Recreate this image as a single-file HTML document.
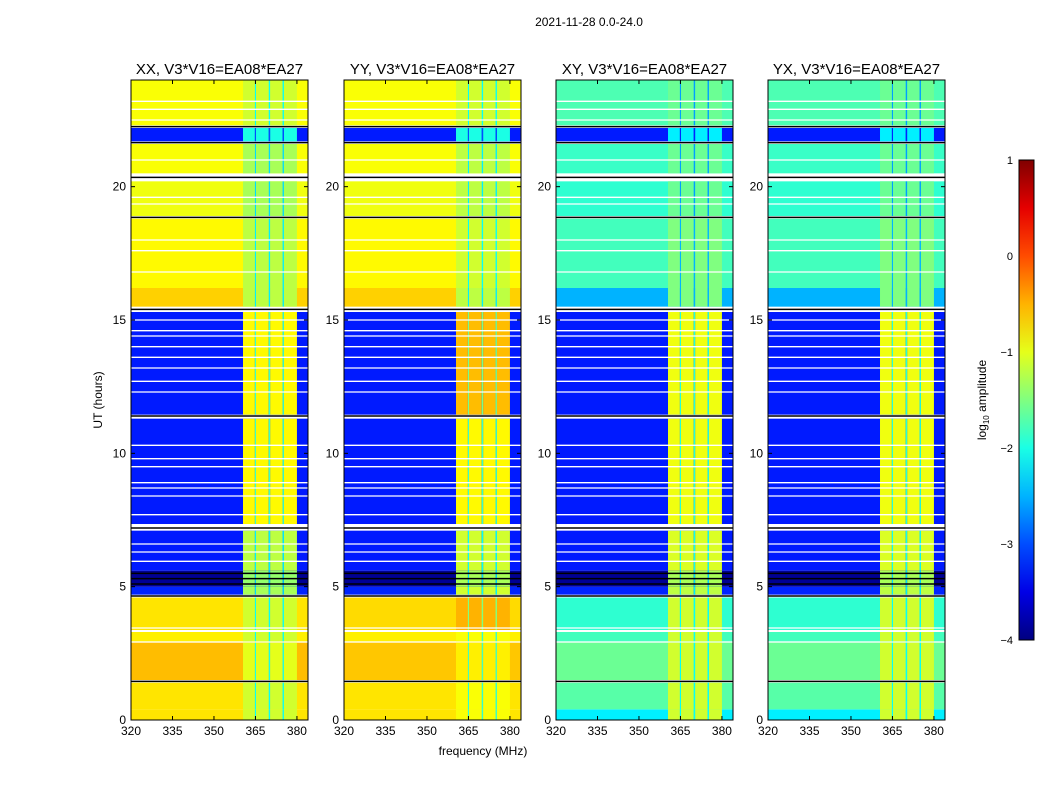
<!DOCTYPE html>
<html><head><meta charset="utf-8"><style>
body{margin:0;background:#fff;}
svg{display:block;font-family:"Liberation Sans",sans-serif;}
</style></head><body>
<svg id="fig" width="1050" height="800"></svg>
<script>
const panelTitles=["XX, V3*V16=EA08*EA27","YY, V3*V16=EA08*EA27","XY, V3*V16=EA08*EA27","YX, V3*V16=EA08*EA27"];
const xTicks=[320,335,350,365,380];
const yTicks=[0,5,10,15,20];
const cbTicks=[1,0,-1,-2,-3,-4];
const bandStart=[0,0.4,1.5,2.95,3.35,4.7,5.0,5.6,7.35,11.45,15.5,16.2,18.9,20.5,21.7,22.3];
const bandEnd=[0.4,1.4,2.9,3.3,4.6,5.0,5.6,7.1,11.3,15.3,16.2,18.8,20.2,21.6,22.2,24];
const lowXX=[-0.75,-0.75,-0.55,-0.8,-0.75,-3.2,-3.9,-3.25,-3.25,-3.25,-0.65,-0.85,-0.95,-0.9,-3.25,-0.9];
const lowYY=[-0.75,-0.75,-0.6,-0.8,-0.7,-3.2,-3.9,-3.25,-3.25,-3.25,-0.65,-0.85,-0.95,-0.9,-3.25,-0.9];
const lowXY=[-2.2,-1.7,-1.6,-1.8,-1.9,-3.2,-3.9,-3.25,-3.25,-3.25,-2.5,-1.8,-1.9,-1.85,-3.25,-1.75];
const lowYX=[-2.2,-1.7,-1.6,-1.8,-1.9,-3.2,-3.9,-3.25,-3.25,-3.25,-2.5,-1.8,-1.9,-1.85,-3.25,-1.75];
const highXX=[-1.1,-1.1,-1.0,-1.1,-1.1,-1.3,-1.4,-1.2,-0.85,-0.85,-1.2,-1.2,-1.3,-1.3,-2.0,-1.1];
const highYY=[-0.9,-0.9,-0.8,-0.9,-0.5,-1.1,-1.3,-1.1,-0.85,-0.55,-1.2,-1.1,-1.2,-1.2,-2.0,-1.1];
const highXY=[-1.1,-1.1,-1.1,-1.1,-1.1,-1.2,-1.3,-1.05,-0.95,-0.95,-1.5,-1.5,-1.6,-1.6,-2.2,-1.6];
const highYX=[-1.1,-1.1,-1.1,-1.1,-1.1,-1.2,-1.3,-1.05,-0.95,-0.95,-1.5,-1.5,-1.6,-1.6,-2.2,-1.6];
const colStart=[360.5,365.2,370.3,375.3];
const colEnd=[364.8,369.8,374.8,380];
const gapStart=[364.8,369.8,374.8];
const gapEnd=[365.2,370.3,375.3];
const blackLines=[1.45,4.65,5.1,5.3,5.5,7.2,11.4,15.4,18.85,20.35,21.65,22.25];
const whiteLines=[3.35,3.45,4.62,5.95,6.3,6.6,7.25,7.7,8.4,8.7,8.9,9.5,9.8,10.3,11.35,12.3,12.7,13.2,13.6,14.0,14.4,14.6,15.0,15.35,16.8,17.6,18.0,19.35,19.6,21.0,22.5,22.9,23.2];
const lowAll=[lowXX,lowYY,lowXY,lowYX], highAll=[highXX,highYY,highXY,highYX];
const panelX=[131,344,556,768], pw=177, topY=80, botY=720;
const svg=document.getElementById('fig');const NS="http://www.w3.org/2000/svg";
function mk(t,a,p){const e=document.createElementNS(NS,t);for(const k in a)e.setAttribute(k,a[k]);(p||svg).appendChild(e);return e;}
function jet(v){let x=(v+4)/5;x=Math.max(0,Math.min(1,x));const c=t=>Math.round(255*Math.max(0,Math.min(1,1.5-Math.abs(4*x-t))));return `rgb(${c(3)},${c(2)},${c(1)})`;}
const yS=t=>botY-(botY-topY)*t/24;
for(let p=0;p<4;p++){
 const x0=panelX[p];const xS=f=>x0+(f-320)*(pw/64);
 const g=mk('g',{});
 for(let b=0;b<bandStart.length;b++){
  const y1=yS(bandEnd[b]),y2=yS(bandStart[b]);
  const r=mk('rect',{x:xS(320),y:y1,width:xS(384)-xS(320),height:y2-y1,fill:jet(lowAll[p][b])},g);
  
  for(let c=0;c<colStart.length;c++){
   const rc=mk('rect',{x:xS(colStart[c]),y:y1,width:xS(colEnd[c])-xS(colStart[c]),height:y2-y1,fill:jet(highAll[p][b])},g);
   
  }
  for(let c=0;c<gapStart.length;c++){
   const rg=mk('rect',{x:xS(gapStart[c]),y:y1,width:xS(gapEnd[c])-xS(gapStart[c]),height:y2-y1,fill:jet(highAll[p][b]-1.0)},g);
   
  }
 }
 for(const t of whiteLines){const l=mk('line',{x1:x0,x2:x0+pw,y1:yS(t),y2:yS(t),stroke:'#fff','stroke-width':1.3},g);}
 for(const t of blackLines){const l=mk('line',{x1:x0,x2:x0+pw,y1:yS(t),y2:yS(t),stroke:'#000','stroke-width':1.5},g);}
 mk('rect',{x:x0,y:topY,width:pw,height:botY-topY,fill:'none',stroke:'#000'},g);
 const tt=mk('text',{x:x0+pw/2,y:74,'text-anchor':'middle','font-size':15},g);tt.textContent=panelTitles[p];
 
 for(const f of xTicks){const x=xS(f);mk('line',{x1:x,x2:x,y1:botY,y2:botY-4,stroke:'#000'},g);mk('line',{x1:x,x2:x,y1:topY,y2:topY+4,stroke:'#000'},g);
  const t=mk('text',{x:x,y:botY+15,'text-anchor':'middle','font-size':12},g);t.textContent=f;}
 for(const h of yTicks){const y=yS(h);mk('line',{x1:x0,x2:x0+4,y1:y,y2:y,stroke:'#000'},g);mk('line',{x1:x0+pw,x2:x0+pw-4,y1:y,y2:y,stroke:'#000'},g);
  const t=mk('text',{x:x0-5,y:y+4,'text-anchor':'end','font-size':12},g);t.textContent=h;}
}
let t=mk('text',{x:589,y:26,'text-anchor':'middle','font-size':12});t.textContent="2021-11-28 0.0-24.0";
t=mk('text',{x:483,y:755,'text-anchor':'middle','font-size':12});t.textContent="frequency (MHz)";
t=mk('text',{x:102,y:400,'text-anchor':'middle','font-size':12,transform:'rotate(-90 102 400)'});t.textContent="UT (hours)";
const defs=mk('defs',{});const lg=mk('linearGradient',{id:'cb',x1:0,y1:1,x2:0,y2:0},defs);
for(let i=0;i<=10;i++){mk('stop',{offset:i/10,'stop-color':jet(-4+5*i/10)},lg);}
const cb=mk('rect',{x:1019,y:160,width:15,height:480,fill:'url(#cb)',stroke:'#000'});
for(const v of cbTicks){const y=640-(v+4)*96;
 const l=mk('text',{x:1013,y:y+4,'text-anchor':'end','font-size':11});l.textContent=v<0?'\u2212'+(-v):v;}
t=mk('text',{x:986,y:400,'text-anchor':'middle','font-size':12,transform:'rotate(-90 986 400)'});
t.innerHTML='log<tspan font-size="8" dy="3">10</tspan><tspan dy="-3"> amplitude</tspan>';
</script>
</body></html>
